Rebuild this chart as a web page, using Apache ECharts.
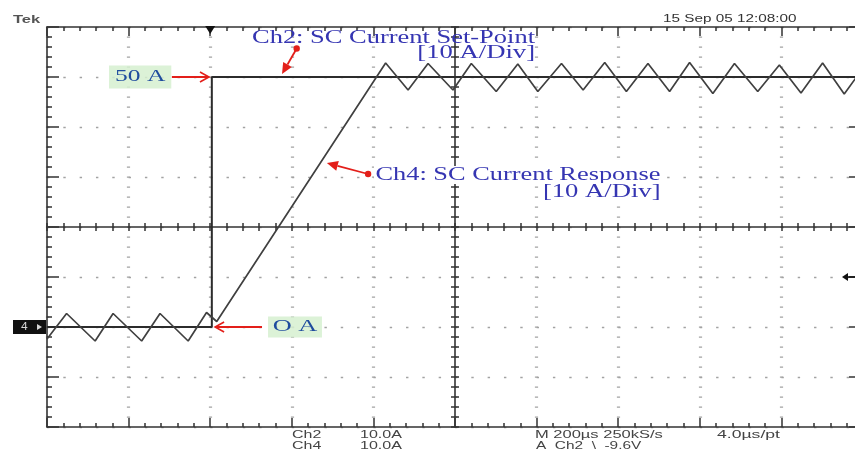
<!DOCTYPE html>
<html>
<head>
<meta charset="utf-8">
<title>SC current step response</title>
<script src="https://cdn.jsdelivr.net/npm/echarts@6/dist/echarts.min.js"></script>
<style>
  html, body { margin: 0; padding: 0; background: #ffffff; }
  #scope { width: 855px; height: 452px; }
</style>
</head>
<body>
<div id="scope"></div>
<script>
// ---- Scope settings: 200 µs/div across 10 divisions, 10 A/div across 8 divisions
const timeRange = [-400, 1600];   // µs, trigger at 0
const timeStep = 200;             // µs per division
const timeMinorStep = 40;         // µs per graticule sub-division
const ampRange = [-20, 60];       // A
const ampStep = 10;               // A per division
const ampMinorStep = 2;           // A per graticule sub-division

// ---- Ch2: current set-point (step from 0 A to 50 A)
const setPointTime = [-400, 4, 4, 1600];
const setPointAmps = [0, 0, 50, 50];

// ---- Ch4: measured current response (ripple, ramp, ripple around 50 A)
const responseTime = [-400, -352, -282, -238, -168, -123, -54, -9, 16,
  430, 485, 534, 595, 640, 701, 754, 803, 861, 914, 967, 1020, 1073, 1126,
  1175, 1232, 1285, 1342, 1395, 1448, 1501, 1554, 1600];
const responseAmps = [-2.4, 2.7, -2.8, 2.7, -2.8, 2.7, -2.8, 2.9, 1.1,
  52.8, 47.4, 52.7, 47.4, 52.7, 47.1, 52.6, 47.1, 52.7, 47.4, 52.9, 47.1, 52.7, 47.1,
  52.9, 46.7, 52.7, 47.1, 52.4, 46.8, 52.8, 46.6, 51.8];

// ---- Annotation texts
const setPointLabel = ['Ch2: SC Current Set-Point', '[10 A/Div]'];
const responseLabel = ['Ch4: SC Current Response', '[10 A/Div]'];
const levelLabels = ['50 A', 'O A'];
const levelValues = [50, 0];
const readoutRows = [['Ch2', '10.0A'], ['Ch4', '10.0A']];
const timebaseRow = ['M 200µs 250kS/s', '4.0µs/pt'];
const triggerRow = 'A  Ch2  \\  -9.6V';
const headerLeft = 'Tek';
const headerRight = '15 Sep 05 12:08:00';
const channelMarker = '4';
const triggerLevel = 10;   // A, trigger level arrow on the right edge
const triggerTime = 0;     // µs, trigger position marker on the top edge

// ---- Annotation arrows, in data coordinates [µs, A]
const arrowSetPoint = [[212, 55.7], [176, 50.6]];
const arrowResponse = [[387, 30.6], [286, 32.8]];
const arrowFifty = [[-94, 50], [-3, 50]];
const arrowZero = [[127, 0], [12, 0]];

const frameColor = '#333333';
const dotColor = '#a2a2a2';
const red = '#e31f1a';
const blue = '#3535b2';
const levelBlue = '#1f4c9e';
const serif = 'Liberation Serif, Times New Roman, serif';
const sans = 'Liberation Sans, Arial, sans-serif';

const chart = echarts.init(document.getElementById('scope'));

const pairs = (xs, ys) => xs.map((x, i) => [x, ys[i]]);
const lineOf = (w) => ({ color: frameColor, width: w });

// One graticule axis: a frame edge or the centre cross, with ticks at a given spacing
function xScale(position, offset, step, tickLen, inside, showLine, split) {
  return {
    type: 'value', min: timeRange[0], max: timeRange[1], interval: step,
    position: position, offset: offset,
    axisLabel: { show: false },
    axisLine: { show: showLine, onZero: false, lineStyle: lineOf(1.6) },
    axisTick: { show: true, inside: inside, length: tickLen, lineStyle: lineOf(1.5) },
    splitLine: split ? { show: true, lineStyle: split } : { show: false }
  };
}
function yScale(position, offset, step, tickLen, inside, showLine, split) {
  return {
    type: 'value', min: ampRange[0], max: ampRange[1], interval: step,
    position: position, offset: offset,
    axisLabel: { show: false },
    axisLine: { show: showLine, onZero: false, lineStyle: lineOf(1.6) },
    axisTick: { show: true, inside: inside, length: tickLen, lineStyle: lineOf(1.5) },
    splitLine: split ? { show: true, lineStyle: split } : { show: false }
  };
}

chart.setOption({
  animation: false,
  backgroundColor: '#ffffff',
  grid: { left: 47, top: 27, width: 816, height: 400, outerBoundsMode: 'none' },
  xAxis: [
    xScale('bottom', 0, timeStep, 9, true, true,
           { color: dotColor, width: 3.2, type: [1.3, 8.7], dashOffset: 0.6 }),
    xScale('bottom', 0, timeMinorStep, 4, true, false),
    xScale('top', 0, timeStep, 9, true, true),
    xScale('top', 0, timeMinorStep, 4, true, false),
    xScale('bottom', -200, timeMinorStep, 4, true, true),
    xScale('bottom', -200, timeMinorStep, 4, false, false)
  ],
  yAxis: [
    yScale('left', 0, ampStep, 12, true, true,
           { color: dotColor, width: 1.3, type: [2.4, 13.92] }),
    yScale('left', 0, ampMinorStep, 5, true, false),
    yScale('right', 0, ampStep, 14, true, true),
    yScale('right', 0, ampMinorStep, 5, true, false),
    yScale('left', -408, ampMinorStep, 4, true, true),
    yScale('left', -408, ampMinorStep, 4, false, false)
  ],
  series: [
    {
      name: 'Ch2', type: 'line', xAxisIndex: 0, yAxisIndex: 0,
      data: pairs(setPointTime, setPointAmps),
      symbol: 'none', z: 3,
      lineStyle: { color: '#2c2c2c', width: 2 }
    },
    {
      name: 'Ch4', type: 'line', xAxisIndex: 0, yAxisIndex: 0,
      data: pairs(responseTime, responseAmps),
      symbol: 'none', z: 4,
      lineStyle: { color: '#404040', width: 1.7 }
    }
  ]
});

// ---- Text overlays, arrows and screen markers, anchored through the axes
const toPx = (p) => chart.convertToPixel({ gridIndex: 0 }, p);
const zeroPx = toPx([timeRange[0], 0]);
const trigPx = toPx([timeRange[1], triggerLevel]);
const trigTopPx = toPx([triggerTime, ampRange[1]]);
const fiftyPx = toPx([timeRange[0], levelValues[0]]);
const zeroLabelPx = toPx([127, levelValues[1]]);

const txt = (text, x, y, font, fill, sx, extra) => ({
  type: 'text', x: x, y: y, scaleX: sx, z: 100,
  style: Object.assign({ text: text, font: font, fill: fill, align: 'left', verticalAlign: 'middle' }, (extra || {}))
});

// Red arrow from a data point to a data point; head is 'solid' or 'open', tail may carry a dot
function arrow(seg, head, dot) {
  const a = toPx(seg[0]), b = toPx(seg[1]);
  const dx = b[0] - a[0], dy = b[1] - a[1];
  const len = Math.sqrt(dx * dx + dy * dy);
  const ux = dx / len, uy = dy / len, nx = -uy, ny = ux;
  const hl = head === 'solid' ? 11 : 9, hw = head === 'solid' ? 5 : 5;
  const base = [b[0] - ux * hl, b[1] - uy * hl];
  const out = [];
  out.push({ type: 'line', z: 90,
    shape: { x1: a[0], y1: a[1], x2: head === 'solid' ? base[0] : b[0] - ux, y2: head === 'solid' ? base[1] : b[1] - uy },
    style: { stroke: red, lineWidth: 1.8 } });
  if (head === 'solid') {
    out.push({ type: 'polygon', z: 91,
      shape: { points: [b, [base[0] + nx * hw, base[1] + ny * hw], [base[0] - nx * hw, base[1] - ny * hw]] },
      style: { fill: red } });
  } else {
    out.push({ type: 'polyline', z: 91,
      shape: { points: [[base[0] + nx * hw, base[1] + ny * hw], b, [base[0] - nx * hw, base[1] - ny * hw]] },
      style: { stroke: red, lineWidth: 1.6, fill: null } });
  }
  if (dot) {
    out.push({ type: 'circle', z: 92, shape: { cx: a[0], cy: a[1], r: 3.2 }, style: { fill: red } });
  }
  return out;
}

const graphics = [
  txt(headerLeft, 13, 20, 'bold 10px ' + sans, '#555555', 1.65),
  txt(headerRight, 663, 19, '11px ' + sans, '#333333', 1.39),

  txt(setPointLabel[0], 252, 38, '18px ' + serif, blue, 1.47),
  txt(setPointLabel[1], 535, 53, '18px ' + serif, blue, 1.48, { align: 'right' }),
  txt(responseLabel[0], 374, 175, '18px ' + serif, blue, 1.465,
      { backgroundColor: '#ffffff', padding: [0, 1] }),
  txt(responseLabel[1], 662, 192, '18px ' + serif, blue, 1.48,
      { align: 'right', backgroundColor: '#ffffff', padding: [0, 1] }),

  txt(levelLabels[0], fiftyPx[0] + 62, fiftyPx[1], '17px ' + serif, levelBlue, 1.5,
      { backgroundColor: 'rgba(214,240,208,0.85)', padding: [3, 4] }),
  txt(levelLabels[1], zeroLabelPx[0] + 6, zeroLabelPx[1], '17px ' + serif, levelBlue, 1.55,
      { backgroundColor: 'rgba(214,240,208,0.85)', padding: [2, 3] }),

  txt(readoutRows[0][0], 292, 435, '11px ' + sans, '#444444', 1.45),
  txt(readoutRows[0][1], 360, 435, '11px ' + sans, '#444444', 1.46),
  txt(readoutRows[1][0], 292, 446, '11px ' + sans, '#444444', 1.45),
  txt(readoutRows[1][1], 360, 446, '11px ' + sans, '#444444', 1.46),
  txt(timebaseRow[0], 535, 435, '11px ' + sans, '#444444', 1.5),
  txt(timebaseRow[1], 717, 435, '11px ' + sans, '#444444', 1.6),
  txt(triggerRow, 536, 446, '11px ' + sans, '#444444', 1.4),

  // trigger position marker on the top edge
  { type: 'polygon', z: 100,
    shape: { points: [[trigTopPx[0] - 5, trigTopPx[1] - 1], [trigTopPx[0] + 5, trigTopPx[1] - 1], [trigTopPx[0], trigTopPx[1] + 7]] },
    style: { fill: '#111111' } },

  // channel 4 ground reference marker on the left edge
  { type: 'rect', z: 100, shape: { x: zeroPx[0] - 34, y: zeroPx[1] - 7, width: 33, height: 14 },
    style: { fill: '#111111' } },
  txt(channelMarker, zeroPx[0] - 26, zeroPx[1], '10px ' + sans, '#d8d8d8', 1.2),
  { type: 'polygon', z: 101,
    shape: { points: [[zeroPx[0] - 10, zeroPx[1] - 3], [zeroPx[0] - 10, zeroPx[1] + 3], [zeroPx[0] - 5, zeroPx[1]]] },
    style: { fill: '#d8d8d8' } },

  // trigger level arrow on the right edge
  { type: 'line', z: 100,
    shape: { x1: trigPx[0] - 18, y1: trigPx[1], x2: trigPx[0] - 8, y2: trigPx[1] },
    style: { stroke: '#111111', lineWidth: 1.6 } },
  { type: 'polygon', z: 100,
    shape: { points: [[trigPx[0] - 21, trigPx[1]], [trigPx[0] - 15, trigPx[1] - 4], [trigPx[0] - 15, trigPx[1] + 4]] },
    style: { fill: '#111111' } }
].concat(
  arrow(arrowSetPoint, 'solid', true),
  arrow(arrowResponse, 'solid', true),
  arrow(arrowFifty, 'open', false),
  arrow(arrowZero, 'open', false)
);

chart.setOption({ graphic: graphics });
</script>
</body>
</html>
